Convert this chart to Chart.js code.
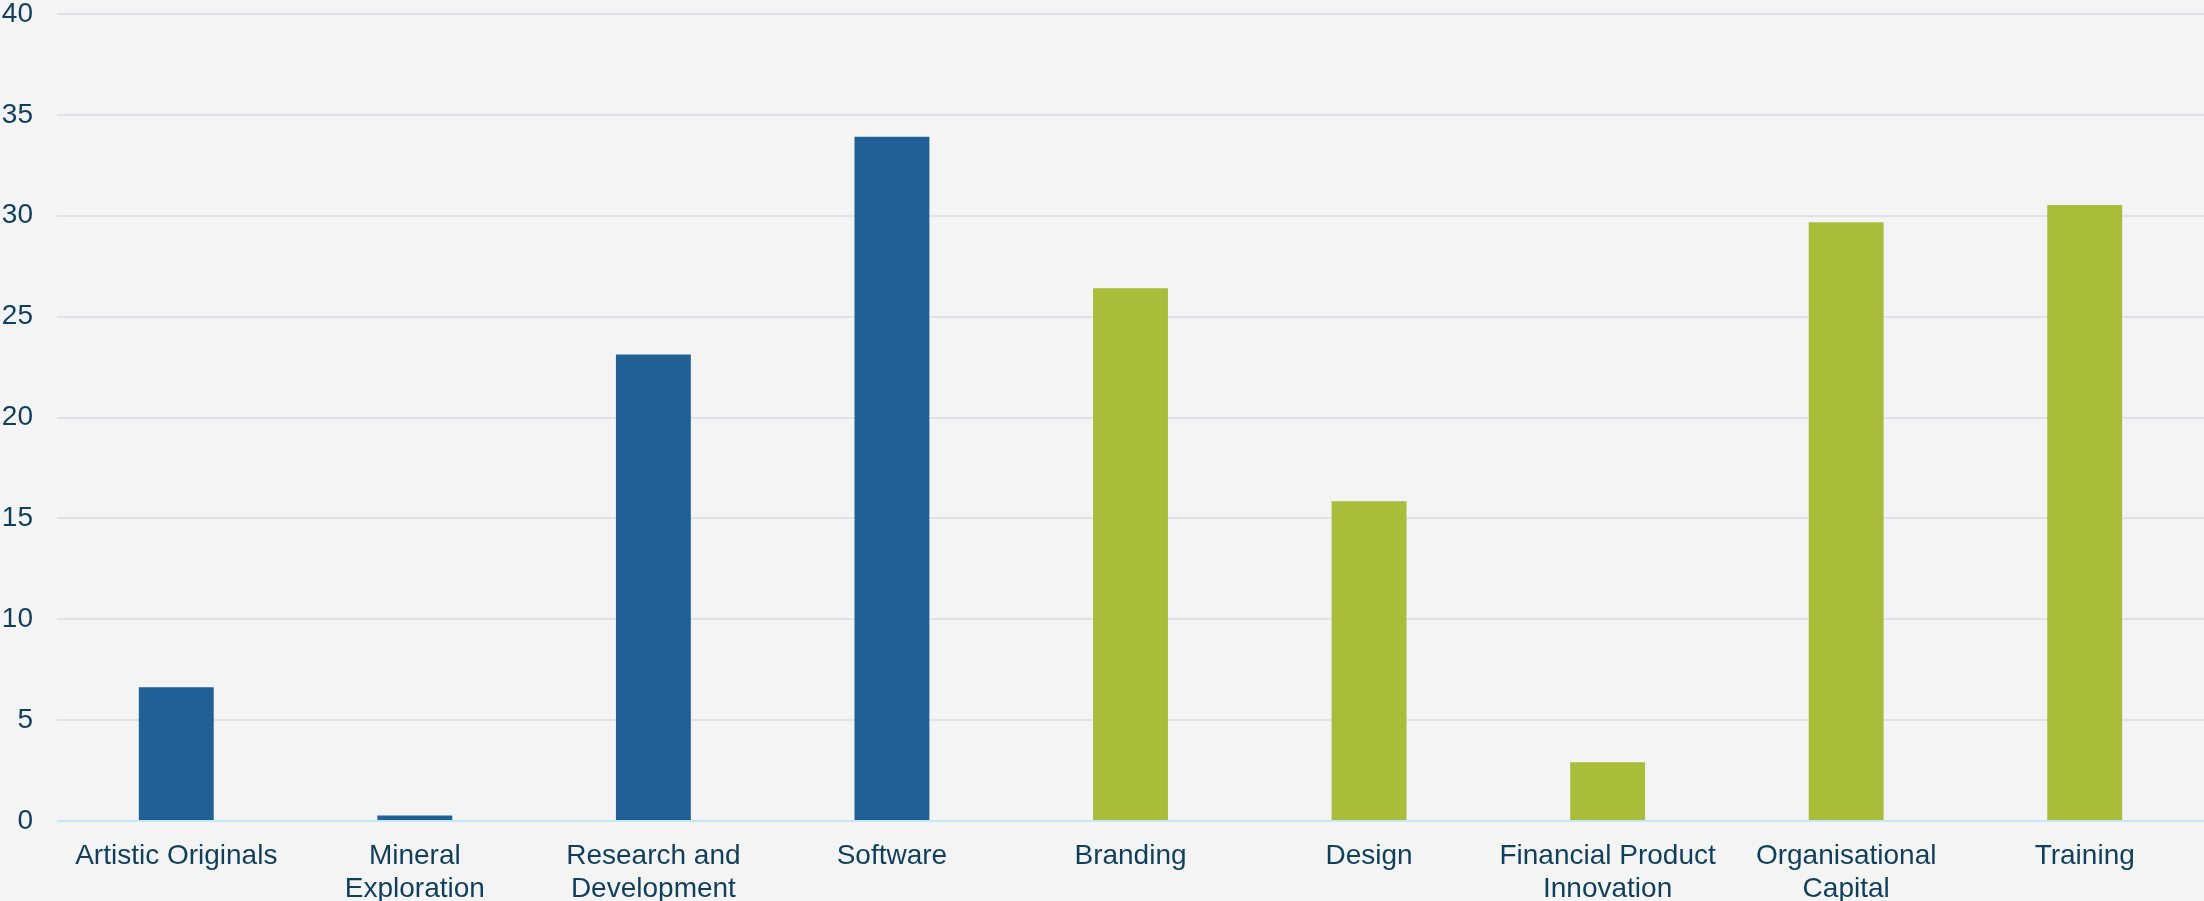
<!DOCTYPE html>
<html>
<head>
<meta charset="utf-8">
<script src="https://cdn.jsdelivr.net/npm/chart.js@4.4.1/dist/chart.umd.min.js"></script>
<style>
    html, body { margin: 0; padding: 0; background: #f4f4f4; }
    #wrap { width: 2204px; height: 901px; position: relative; }
</style>
</head>
<body>
<div id="wrap"><canvas id="intangiblesChart"></canvas></div>
<script>
// Categories (multi-line labels as shown under the axis)
const categories = [
    "Artistic Originals",
    ["Mineral", "Exploration"],
    ["Research and", "Development"],
    "Software",
    "Branding",
    "Design",
    ["Financial Product", "Innovation"],
    ["Organisational", "Capital"],
    "Training"
];

// Values
const values = [6.63, 0.27, 23.12, 33.91, 26.41, 15.85, 2.91, 29.68, 30.53];

// First four categories are drawn blue, the rest green
const blueCount = 4;

// Y axis ticks
const yTicks = [0, 5, 10, 15, 20, 25, 30, 35, 40];

const textColour = "#0f3f5a";
const font = { family: "'Liberation Sans', Arial, sans-serif", size: 28 };

const ctx = document.getElementById("intangiblesChart").getContext("2d");
new Chart(ctx, {
    type: "bar",
    data: {
        labels: categories,
        datasets: [
            {
                data: values,
                backgroundColor: (c) => (c.dataIndex < blueCount ? "#216096" : "#a9bd3b"),
                borderWidth: 0,
                barPercentage: 0.314,
                categoryPercentage: 1
            }
        ]
    },
    options: {
        responsive: true,
        maintainAspectRatio: false,
        animation: false,
        layout: { padding: { top: 14, right: 0, bottom: 0, left: 0 } },
        plugins: {
            legend: { display: false },
            tooltip: { enabled: false }
        },
        scales: {
            x: {
                grid: { display: false, drawTicks: false },
                border: { display: false },
                ticks: {
                    color: textColour,
                    font: { ...font, lineHeight: 1.2 },
                    maxRotation: 0,
                    autoSkip: false,
                    padding: 18
                },
                afterFit: (scale) => {
                    scale.height = 80;
                    scale.paddingLeft = 0;
                    scale.paddingRight = 0;
                }
            },
            y: {
                min: yTicks[0],
                max: yTicks[yTicks.length - 1],
                afterBuildTicks: (scale) => {
                    scale.ticks = yTicks.map((v) => ({ value: v }));
                },
                grid: {
                    drawTicks: false,
                    lineWidth: 2,
                    color: (c) => (c.tick && c.tick.value === 0 ? "#c6e7f8" : "#dfe3e8")
                },
                border: { display: false },
                ticks: {
                    color: textColour,
                    font: font,
                    padding: 24
                },
                afterFit: (scale) => {
                    scale.width = 57;
                    scale.paddingTop = 0;
                    scale.paddingBottom = 0;
                }
            }
        }
    }
});
</script>
</body>
</html>
